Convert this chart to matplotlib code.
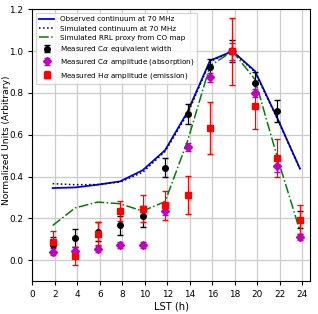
import matplotlib.pyplot as plt

# LST hours of the observations
lst = [1.8, 3.8, 5.8, 7.8, 9.8, 11.8, 13.8, 15.8, 17.8, 19.8, 21.8, 23.8]

# model / continuum curves
obs_cont = [0.345, 0.348, 0.361, 0.377, 0.43, 0.526, 0.71, 0.955, 1.0, 0.905, 0.678, 0.438]
sim_cont = [0.366, 0.361, 0.362, 0.374, 0.42, 0.52, 0.70, 0.95, 1.0, 0.90, 0.675, 0.436]
rrl_proxy = [0.166, 0.25, 0.278, 0.27, 0.235, 0.28, 0.57, 0.93, 1.0, 0.865, 0.49, 0.14]

# measurements with errors
ca_ew = [0.073, 0.105, 0.137, 0.166, 0.21, 0.443, 0.70, 0.923, 1.0, 0.849, 0.713, 0.193]
ca_ew_err = [0.04, 0.042, 0.045, 0.047, 0.05, 0.044, 0.048, 0.04, 0.054, 0.05, 0.054, 0.04]
ca_amp = [0.041, 0.046, 0.054, 0.073, 0.073, 0.234, 0.54, 0.875, 1.0, 0.80, 0.45, 0.11]
ca_amp_err = [0.015, 0.015, 0.015, 0.015, 0.015, 0.02, 0.02, 0.02, 0.04, 0.02, 0.03, 0.015]
ha_amp = [0.089, 0.02, 0.126, 0.235, 0.246, 0.262, 0.313, 0.633, 1.0, 0.738, 0.49, 0.194]
ha_amp_err = [0.05, 0.042, 0.055, 0.05, 0.064, 0.068, 0.09, 0.125, 0.16, 0.11, 0.09, 0.07]

fig = plt.figure(figsize=(3.18, 3.14), dpi=100)
ax = fig.add_axes([0.102, 0.105, 0.873, 0.865])

ax.plot(lst, obs_cont, color='blue', lw=1.3, label='Observed continuum at 70 MHz')
ax.plot(lst, sim_cont, color='black', ls=':', lw=1.1, label='Simulated continuum at 70 MHz')
ax.plot(lst, rrl_proxy, color='green', ls='-.', lw=1.1, label='Simulated RRL proxy from CO map')
ax.errorbar(lst, ca_ew, yerr=ca_ew_err, fmt='o', color='black', ms=4, capsize=2.5,
            elinewidth=0.9, label=r'Measured C$\alpha$ equivalent width')
ax.errorbar(lst, ca_amp, yerr=ca_amp_err, fmt='D', color='m', ms=3.8, capsize=2.5,
            elinewidth=0.9, label=r'Measured C$\alpha$ amplitude (absorption)')
ax.errorbar(lst, ha_amp, yerr=ha_amp_err, fmt='s', color='red', ms=4, capsize=2.5,
            elinewidth=0.9, label=r'Measured H$\alpha$ amplitude (emission)')

ax.set_xlim(0, 24.7)
ax.set_ylim(-0.1, 1.2)
ax.set_xticks(range(0, 25, 2))
ax.set_yticks([0.0, 0.2, 0.4, 0.6, 0.8, 1.0, 1.2])
ax.tick_params(labelsize=6.4, length=3)
ax.set_xlabel('LST (h)', fontsize=7.2, labelpad=1.5)
ax.set_ylabel('Normalized Units (Arbitrary)', fontsize=6.6)
ax.yaxis.set_label_coords(-0.078, 0.52)
ax.grid(True, color='#cccccc', lw=0.9)
ax.legend(loc='upper left', fontsize=5.2, handlelength=2, borderpad=0.45,
          labelspacing=0.45, framealpha=0.8)

fig.savefig('out.png', dpi=100)
